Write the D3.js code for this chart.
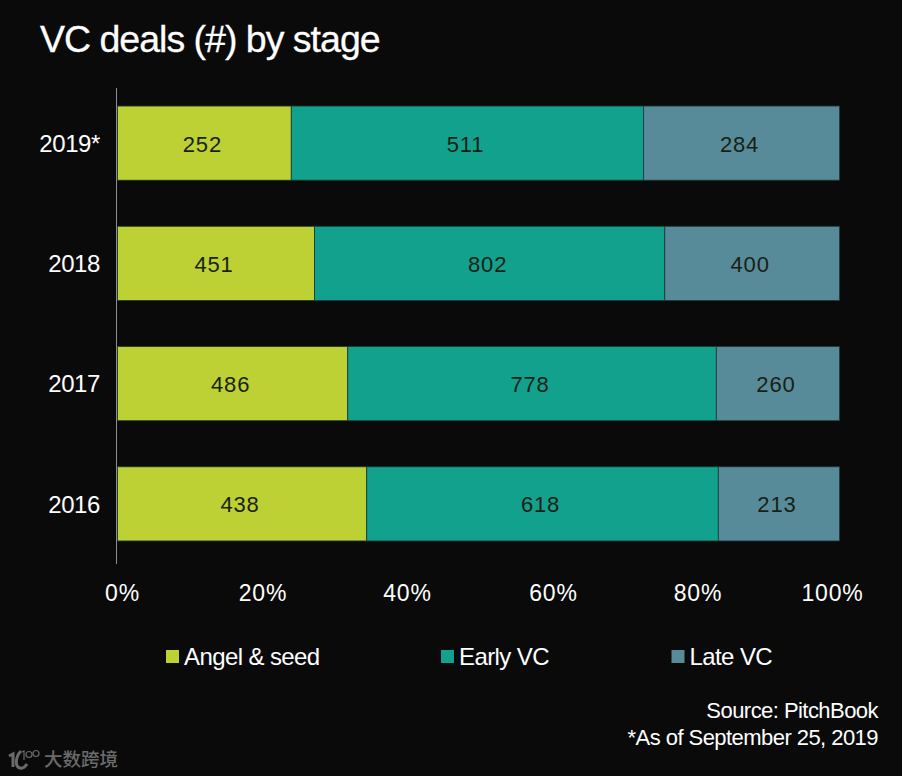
<!DOCTYPE html>
<html>
<head>
<meta charset="utf-8">
<script src="https://cdn.jsdelivr.net/npm/d3@7"></script>
<style>
  html, body { margin: 0; padding: 0; background: #0a0a0a; }
  svg { display: block; font-family: "Liberation Sans", sans-serif; }
</style>
</head>
<body>
<div id="chart"></div>
<script>
const years = ["2019*", "2018", "2017", "2016"];
const stages = ["Angel & seed", "Early VC", "Late VC"];
const angelSeed = [252, 451, 486, 438];
const earlyVC = [511, 802, 778, 618];
const lateVC = [284, 400, 260, 213];
const xTicks = [0, 20, 40, 60, 80, 100];
const stageColors = ["#bdd034", "#12a18c", "#578b9a"];

const width = 902;
const height = 776;

const svg = d3.select("#chart").append("svg")
  .attr("width", width)
  .attr("height", height);

svg.append("rect")
  .attr("width", width)
  .attr("height", height)
  .attr("fill", "#0a0a0a");

svg.append("text")
  .attr("x", 40)
  .attr("y", 52)
  .attr("fill", "#fff")
  .attr("stroke", "#fff")
  .attr("stroke-width", 0.3)
  .attr("font-size", 37.5)
  .attr("letter-spacing", -1)
  .text("VC deals (#) by stage");

const rows = years.map((year, i) => {
  const vals = [angelSeed[i], earlyVC[i], lateVC[i]];
  const total = d3.sum(vals);
  let acc = 0;
  return {
    year,
    parts: vals.map((v, k) => {
      const part = { value: v, k, x0: acc / total, x1: (acc + v) / total };
      acc += v;
      return part;
    }),
  };
});

const x = d3.scaleLinear().domain([0, 1]).range([117.5, 839.5]);
const y = d3.scaleBand().domain(years).range([83, 564])
  .paddingInner(46 / 120).paddingOuter(23 / 120);

const row = svg.append("g").selectAll("g")
  .data(rows)
  .join("g")
  .attr("transform", (d) => `translate(0,${y(d.year)})`);

row.selectAll("rect")
  .data((d) => d.parts)
  .join("rect")
  .attr("x", (d) => x(d.x0))
  .attr("width", (d) => x(d.x1) - x(d.x0))
  .attr("height", y.bandwidth())
  .attr("fill", (d) => stageColors[d.k])
  .attr("stroke", "#1d3a36")
  .attr("stroke-width", 0.8);

row.selectAll("text")
  .data((d) => d.parts)
  .join("text")
  .attr("x", (d) => (x(d.x0) + x(d.x1)) / 2 - 2)
  .attr("y", y.bandwidth() / 2 + 8.5)
  .attr("text-anchor", "middle")
  .attr("fill", "#1a1f14")
  .attr("font-size", 22)
  .attr("letter-spacing", 0.8)
  .text((d) => d.value);

// year labels and the vertical rule
svg.append("g")
  .attr("transform", "translate(116,1)")
  .call(d3.axisLeft(y).tickSize(0).tickPadding(16))
  .call((g) => g.select(".domain").remove())
  .call((g) => g.selectAll("text")
    .attr("fill", "#fff")
    .attr("font-size", 24)
    .attr("font-family", "Liberation Sans")
    .attr("letter-spacing", -0.4));

svg.append("line")
  .attr("x1", 116.5).attr("x2", 116.5)
  .attr("y1", 88).attr("y2", 564)
  .attr("stroke", "#8c8c8c")
  .attr("stroke-width", 1);

// tick labels are not evenly spaced in the original
const xLabels = d3.scaleLinear().domain(xTicks).range([122, 262.5, 407, 553, 697.5, 832]);
svg.append("g")
  .attr("transform", "translate(0,601)")
  .call(d3.axisBottom(xLabels).tickValues(xTicks).tickFormat((d) => d + "%").tickSize(0).tickPadding(0))
  .call((g) => g.select(".domain").remove())
  .call((g) => g.selectAll("text")
    .attr("fill", "#fff")
    .attr("font-size", 23)
    .attr("font-family", "Liberation Sans")
    .attr("letter-spacing", 0.8)
    .attr("y", 0)
    .attr("dy", 0));

const legendX = [166, 441, 671.5];
const legend = svg.append("g").selectAll("g")
  .data(stages)
  .join("g")
  .attr("transform", (d, i) => `translate(${legendX[i]},650)`);

legend.append("rect")
  .attr("width", 13)
  .attr("height", 13)
  .attr("fill", (d, i) => stageColors[i]);

legend.append("text")
  .attr("x", 18)
  .attr("y", 15)
  .attr("fill", "#fff")
  .attr("font-size", 24)
  .attr("letter-spacing", -0.6)
  .text((d) => d);

const notes = ["Source: PitchBook", "*As of September 25, 2019"];
svg.append("g").selectAll("text")
  .data(notes)
  .join("text")
  .attr("x", 878)
  .attr("y", (d, i) => 718 + i * 27)
  .attr("text-anchor", "end")
  .attr("fill", "#fff")
  .attr("font-size", 22)
  .attr("letter-spacing", -0.55)
  .text((d) => d);

// watermark
const grey = "#6a6a6a";
const mark = svg.append("g").attr("fill", "none").attr("stroke", grey);
mark.append("path")
  .attr("d", "M9 756 L13 754 L13 767")
  .attr("stroke-width", 3);
mark.append("path")
  .attr("d", "M21 751 C15 757 15 767 20 768 C23 769 25 767 27 764")
  .attr("stroke-width", 3);
mark.append("path")
  .attr("d", "M22 752 L24 751 L24 760")
  .attr("stroke-width", 1.2);
mark.append("circle").attr("cx", 29).attr("cy", 754.5).attr("r", 3).attr("stroke-width", 1.2);
mark.append("circle").attr("cx", 36).attr("cy", 753.5).attr("r", 3).attr("stroke-width", 1.2);
svg.append("text")
  .attr("x", 44).attr("y", 766)
  .attr("fill", grey)
  .attr("font-size", 18.5)
  .attr("font-family", "Noto Sans CJK SC")
  .attr("font-weight", 500)
  .text("大数跨境");
</script>
</body>
</html>
